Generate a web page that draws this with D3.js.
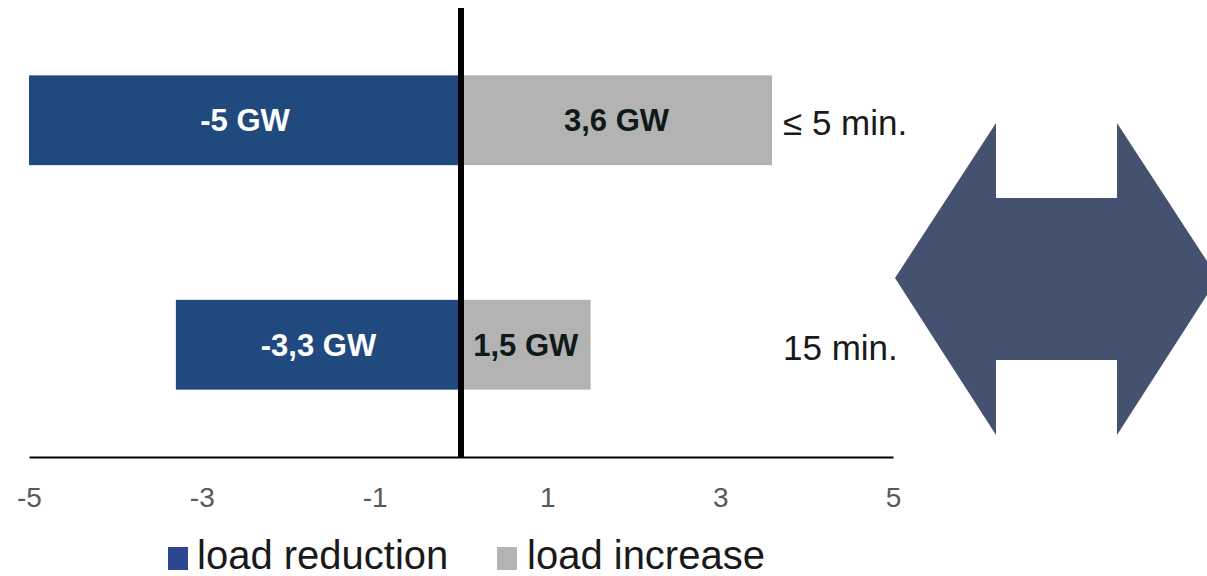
<!DOCTYPE html>
<html>
<head>
<meta charset="utf-8">
<script src="https://cdn.jsdelivr.net/npm/d3@7"></script>
<style>
  html, body { margin: 0; padding: 0; background: #fff; }
  svg { display: block; font-family: "Liberation Sans", Arial, sans-serif; }
</style>
</head>
<body>
<svg id="chart" width="1207" height="576"></svg>
<script>
const categories = ["≤ 5 min.", "15 min."];
const reduction = [-5, -3.3];
const increase = [3.6, 1.5];
const reductionLabels = ["-5 GW", "-3,3 GW"];
const increaseLabels = ["3,6 GW", "1,5 GW"];
const tickValues = [-5, -3, -1, 1, 3, 5];
const seriesNames = ["load reduction", "load increase"];

const blue = "#204a7e", gray = "#b3b3b3", legendBlue = "#2d4690";
const svg = d3.select("#chart");

const x = d3.scaleLinear().domain([-5, 5]).range([29, 893]);
const y = d3.scaleBand().domain(categories).range([8, 457]).paddingInner(0.6).paddingOuter(0.3);
const axisY = 457;

// bars
svg.selectAll("rect.red").data(categories).join("rect")
  .attr("x", (d, i) => x(reduction[i]))
  .attr("width", (d, i) => x(0) - x(reduction[i]))
  .attr("y", d => y(d)).attr("height", y.bandwidth())
  .attr("fill", blue);
svg.selectAll("rect.inc").data(categories).join("rect")
  .attr("x", x(0))
  .attr("width", (d, i) => x(increase[i]) - x(0))
  .attr("y", d => y(d)).attr("height", y.bandwidth())
  .attr("fill", gray);

// bar labels
svg.selectAll("text.rl").data(categories).join("text")
  .attr("x", (d, i) => (x(reduction[i]) + x(0)) / 2)
  .attr("y", d => y(d) + y.bandwidth() / 2 + 11)
  .attr("text-anchor", "middle").attr("font-size", 31).attr("font-weight", "bold")
  .attr("fill", "#ffffff")
  .text((d, i) => reductionLabels[i]);
svg.selectAll("text.il").data(categories).join("text")
  .attr("x", (d, i) => (x(increase[i]) + x(0)) / 2)
  .attr("y", d => y(d) + y.bandwidth() / 2 + 11)
  .attr("text-anchor", "middle").attr("font-size", 31).attr("font-weight", "bold")
  .attr("fill", "#0d1a1a")
  .text((d, i) => increaseLabels[i]);

// category labels
svg.selectAll("text.cat").data(categories).join("text")
  .attr("x", 783)
  .attr("y", d => y(d) + y.bandwidth() / 2 + 15)
  .attr("font-size", 35).attr("fill", "#1a1a1a")
  .text(d => d);

// x axis
const axis = d3.axisBottom(x).tickValues(tickValues).tickSize(0).tickSizeOuter(0).tickPadding(30)
  .tickFormat(d3.format("d"));
const ag = svg.append("g").attr("transform", `translate(0,${axisY})`).call(axis);
ag.select(".domain").attr("stroke", "#000").attr("stroke-width", 2);
ag.selectAll("text").attr("font-size", 28).attr("fill", "#595959")
  .attr("font-family", "'Liberation Sans', Arial, sans-serif")
  .text(d => String(d).replace("−", "-"));

// zero line
svg.append("line")
  .attr("x1", x(0)).attr("x2", x(0))
  .attr("y1", 8).attr("y2", axisY)
  .attr("stroke", "#000").attr("stroke-width", 6);

// legend
const legend = [
  { name: seriesNames[0], color: legendBlue, sx: 168, tx: 197 },
  { name: seriesNames[1], color: gray, sx: 497, tx: 527 }
];
const lg = svg.append("g");
lg.selectAll("rect").data(legend).join("rect")
  .attr("x", d => d.sx).attr("y", 547).attr("width", 20).attr("height", 23)
  .attr("fill", d => d.color);
lg.selectAll("text").data(legend).join("text")
  .attr("x", d => d.tx).attr("y", 569)
  .attr("font-size", 40).attr("fill", "#1a1a1a")
  .text(d => d.name);

// double-headed arrow
const arrowPts = [
  [895, 278], [996, 123], [996, 198], [1117, 198], [1117, 123], [1218, 278],
  [1117, 435], [1117, 360], [996, 360], [996, 435]
];
svg.append("path")
  .attr("d", d3.line()(arrowPts) + "Z")
  .attr("fill", "#45526f");
</script>
</body>
</html>
